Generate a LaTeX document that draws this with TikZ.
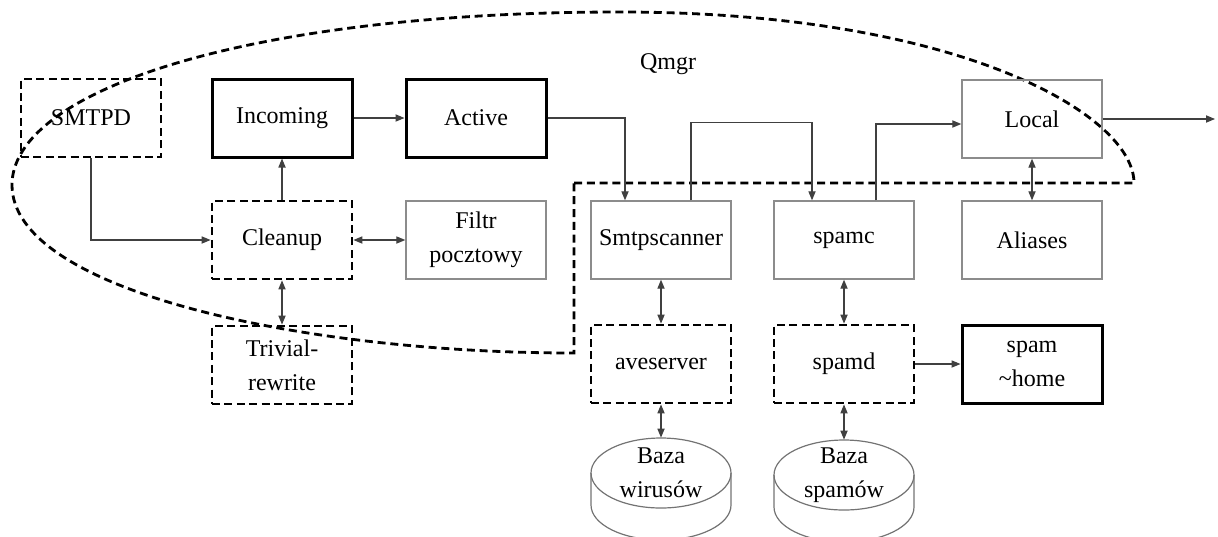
\documentclass[tikz,border=0pt]{standalone}
\usepackage{fontspec}
\setmainfont{Liberation Serif}
\usetikzlibrary{positioning,arrows.meta,calc}

\begin{document}
\begin{tikzpicture}[
  x=0.5pt, y=-0.5pt,
  font=\fontsize{12}{17}\selectfont,
  box/.style={minimum width=70pt, minimum height=39pt, align=center,
              inner sep=2pt},
  dbox/.style={box, draw, line width=1.4pt, dash pattern=on 4pt off 2.2pt},
  tbox/.style={box, draw, line width=1.5pt},
  gbox/.style={box, draw=black!45, line width=0.7pt},
  db/.style={minimum width=70pt, minimum height=35pt, align=center,
             inner sep=0pt},
  dbline/.style={draw=black!55, line width=0.6pt},
  qm/.style={line width=1.4pt, dash pattern=on 4pt off 2.4pt},
  ar/.style={-{Triangle[length=4.5pt,width=3.6pt]}, black!75,
             line width=0.55pt},
  dar/.style={ar, {Triangle[length=4.5pt,width=3.6pt]}-{Triangle[length=4.5pt,width=3.6pt]}},
]
\useasboundingbox (0,0) rectangle (1218,536);

% qmgr boundary
\draw[qm] (574,183) -- (1134,183)
  .. controls (1134,115) and (960,12) .. (620,12)
  .. controls (250,12) and (12,90) .. (12,185)
  .. controls (12,290) and (300,353) .. (574,353) -- cycle;
\node (qmgr) at (668,64) {Qmgr};

% top row
\node[dbox] (smtpd) at (91,118) {SMTPD};
\node[tbox] (incoming) at (282,118) {Incoming};
\node[tbox] (active) at (476,118) {Active};
\node[gbox] (local) at (1032,119) {Local};
\coordinate (out) at (1215,119);

% middle row
\node[dbox] (cleanup) at (282,240) {Cleanup};
\node[gbox] (filtr) at (476,240) {Filtr\\pocztowy};
\node[gbox] (smtp) at (661,240) {Smtpscanner};
\node[gbox] (spamc) at (844,240) {spamc};
\node[gbox] (aliases) at (1032,240) {Aliases};

% bottom row
\node[dbox] (trivial) at (282,365) {Trivial-\\rewrite};
\node[dbox] (ave) at (661,364) {aveserver};
\node[dbox] (spamd) at (844,364) {spamd};
\node[tbox] (home) at (1032,364) {spam\\\textasciitilde home};

% databases
\node[db] (bw) at (661,473) {Baza\\wirusów};
\node[db] (bs) at (844,475) {Baza\\spamów};
\draw[dbline] (bw.center) ellipse [x radius=35pt, y radius=17.5pt];
\draw[dbline] (591,473) -- (591,505)
  .. controls (591,524.3) and (622.3,540) .. (661,540)
  .. controls (699.7,540) and (731,524.3) .. (731,505) -- (731,473);
\draw[dbline] (bs.center) ellipse [x radius=35pt, y radius=17.5pt];
\draw[dbline] (774,475) -- (774,507)
  .. controls (774,526.3) and (805.3,542) .. (844,542)
  .. controls (882.7,542) and (914,526.3) .. (914,507) -- (914,475);

% connectors
\draw[ar] (smtpd.south) |- (cleanup.west);
\draw[ar] (cleanup.north) -- (incoming.south);
\draw[dar] (cleanup.east) -- (filtr.west);
\draw[dar] (cleanup.south) -- (trivial.north);
\draw[ar] (incoming.east) -- (active.west);
\draw[ar] (active.east) -| ([xshift=-18pt]smtp.north);
\draw[ar] ([xshift=15pt]smtp.north) -- ++(0,-78) -| ([xshift=-16pt]spamc.north);
\draw[ar] ([xshift=16pt]spamc.north) |- ([yshift=-2.5pt]local.west);
\draw[ar] (local.east) -- (out);
\draw[dar] (local.south) -- (aliases.north);
\draw[dar] (smtp.south) -- (ave.north);
\draw[dar] (spamc.south) -- (spamd.north);
\draw[ar] (spamd.east) -- (home.west);
\draw[dar] (ave.south) -- (bw.north);
\draw[dar] (spamd.south) -- (bs.north);
\end{tikzpicture}
\end{document}
